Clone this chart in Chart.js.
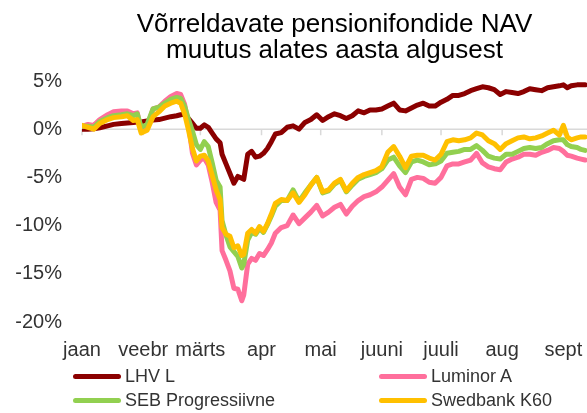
<!DOCTYPE html>
<html>
<head>
<meta charset="utf-8">
<script src="https://cdn.jsdelivr.net/npm/chart.js@4.4.1/dist/chart.umd.min.js"></script>
<style>
  body { margin: 0; background: #fff; }
  #wrap { position: relative; width: 587px; height: 413px; }
  .legend-item { position: absolute; display: flex; align-items: center; font: 18px 'Liberation Sans', Arial, sans-serif; color: #333; }
  .legend-item .sw { display: inline-block; width: 48px; height: 5px; border-radius: 3px; margin-right: 4px; }
</style>
</head>
<body>
<div id="wrap">
  <canvas id="chart"></canvas>
  <div id="legend"></div>
</div>
<script>
// day of year (0 = 1 Jan)
const days = [
  0, 3, 6, 9, 13, 16, 20, 23, 26, 28,
  30, 33, 36, 39, 42, 45, 48, 50, 52, 54,
  56, 58, 60, 62, 64, 66, 68, 70, 71, 73,
  75, 77, 79, 81, 82, 84, 86, 88, 90, 92,
  94, 96, 98, 101, 104, 107, 110, 113, 116, 119,
  122, 125, 128, 131, 134, 137, 140, 143, 146, 149,
  152, 155, 158, 161, 164, 167, 170, 173, 176, 179,
  182, 185, 188, 191, 194, 197, 200, 203, 206, 209,
  212, 215, 218, 221, 224, 227, 230, 233, 236, 239,
  242, 244, 246, 248, 251, 253, 255
];

const lhvL = [
  0, 0, 0.05, 0.15, 0.35, 0.5, 0.6, 0.65, 0.7, 0.75,
  0.75, 0.85, 0.95, 1.0, 1.15, 1.3, 1.4, 1.5, 1.55, 1.1,
  0.6, 0.1, 0.1, 0.45, 0.2, -0.4, -1.0, -1.4, -2.6, -3.6,
  -4.6, -5.6, -4.9, -5.1, -5.2, -2.6, -2.3, -2.9, -2.8, -2.5,
  -2.0, -1.3, -0.5, -0.35, 0.2, 0.35, 0.0, 0.7, 1.0, 1.5,
  0.9, 1.3, 1.6, 1.4, 1.1, 1.4, 1.9, 1.7, 2.0, 2.0,
  2.1, 2.4, 2.7, 2.0, 1.9, 2.2, 2.5, 2.7, 2.4, 2.4,
  2.8, 3.1, 3.5, 3.5, 3.7, 4.0, 4.2, 4.4, 4.3, 4.1,
  3.6, 3.9, 3.8, 3.7, 3.9, 4.2, 4.1, 4.0, 4.3, 4.4,
  4.5, 4.6, 4.3, 4.5, 4.6, 4.6, 4.6
];

const luminorA = [
  0.3, 0.5, 0.4, 1.0, 1.5, 1.8, 1.9, 1.9, 1.6, 1.7,
  -0.1, 0.2, 2.1, 2.3, 2.9, 3.4, 3.7, 3.6, 2.6, 0.5,
  -2.5, -3.7, -3.2, -3.0, -3.7, -5.5, -7.6, -8.4, -12.6, -13.6,
  -14.7, -16.5, -16.6, -17.8, -17.2, -14.0, -13.4, -13.6, -12.9, -13.1,
  -12.5, -11.8, -10.8, -10.2, -10.0, -8.9, -9.8, -9.2, -8.6, -7.9,
  -9.0, -8.6, -8.1, -7.8, -8.8, -8.0, -7.4, -7.0, -6.8, -6.5,
  -6.0, -5.3, -4.6, -6.0, -6.8, -5.2, -5.0, -5.1, -5.5, -5.6,
  -5.0, -3.8, -3.6, -3.6, -3.4, -3.2, -2.5, -3.5, -3.9, -4.1,
  -4.2, -3.4, -3.1, -2.9, -2.6, -2.6, -2.7, -2.4, -2.2, -1.9,
  -2.0, -2.3, -2.7, -2.8, -3.0, -3.1, -3.2
];

const sebProgressiivne = [
  0.3, 0.3, 0.2, 0.8, 1.2, 1.4, 1.5, 1.6, 1.4, 1.6,
  0.2, 0.5, 2.1, 2.3, 2.7, 3.1, 3.3, 3.2, 2.4, 1.0,
  -0.2, -1.6, -2.1, -1.3, -1.8, -3.5, -5.3, -6.0, -9.5, -11.0,
  -12.2, -12.7, -13.2, -14.4, -14.0, -11.5, -10.7, -10.9, -10.3, -10.7,
  -9.9, -9.0, -8.0, -7.4, -7.4, -6.3, -7.5, -6.6, -5.8, -5.0,
  -6.6, -6.4, -5.7, -5.3, -6.5, -5.8, -5.2, -4.9, -4.7, -4.5,
  -4.1, -3.2, -2.9, -3.8, -4.5, -3.4, -3.2, -3.4, -3.7, -3.6,
  -3.3, -2.5, -2.4, -2.3, -2.1, -2.1, -1.7, -2.2, -2.8, -3.0,
  -3.1, -2.6, -2.6, -2.3, -2.0, -1.9, -2.0, -1.9, -1.5, -1.2,
  -1.1, -1.1, -1.6, -1.8, -1.9, -2.1, -2.2
];

const swedbankK60 = [
  0.4, 0.2, 0.0, 0.6, 1.0, 1.2, 1.3, 1.4, 0.9, 1.0,
  -0.4, -0.1, 1.3, 1.8, 2.4, 2.7, 2.9, 2.7, 1.6, -0.1,
  -2.0, -3.3, -2.8, -2.7, -3.3, -4.8, -6.3, -7.3, -10.2, -10.9,
  -11.1, -12.3, -12.1, -13.1, -13.0, -10.8, -10.4, -10.8, -10.1, -10.6,
  -9.8, -8.8, -7.7, -7.3, -7.4, -6.6, -7.6, -6.8, -5.8, -5.0,
  -6.5, -6.3, -5.6, -5.2, -6.4, -5.6, -5.0, -4.7, -4.5, -4.3,
  -3.9, -2.4, -1.8, -2.8, -4.0, -2.8, -2.7, -2.7, -3.0, -3.2,
  -2.6, -1.3, -1.1, -1.2, -1.1, -0.9, -0.4, -0.6, -1.2, -1.5,
  -2.1, -1.5, -1.2, -0.9, -0.8, -1.0, -0.9, -0.7, -0.4, -0.1,
  -0.6, 0.4, -0.8, -1.1, -0.9, -0.8, -0.8
];

const seriesNames = ['LHV L', 'Luminor A', 'SEB Progressiivne', 'Swedbank K60'];
const seriesColors = ['#8B0000', '#FF6F9C', '#92D050', '#FFC000'];

const monthStarts = [0, 31, 60, 91, 121, 152, 182, 213, 244];
const monthLabels = ['jaan', 'veebr', 'märts', 'apr', 'mai', 'juuni', 'juuli', 'aug', 'sept'];
const yTicks = [5, 0, -5, -10, -15, -20];

const FONT = "'Liberation Sans', Arial, sans-serif";
Chart.defaults.font.family = FONT;
Chart.defaults.color = '#333';

function toPoints(values) {
  return values.map((v, i) => ({ x: days[i], y: v }));
}

const allValues = [lhvL, luminorA, sebProgressiivne, swedbankK60];
const datasets = allValues.map((vals, i) => ({
  label: seriesNames[i],
  data: toPoints(vals),
  borderColor: seriesColors[i],
  backgroundColor: seriesColors[i],
  borderWidth: 5,
  pointRadius: 0,
  tension: 0,
  borderJoinStyle: 'round',
  borderCapStyle: 'round',
  order: 3 - i
}));

// zero line with month tick marks, drawn under the series
const zeroAxis = {
  id: 'zeroAxis',
  beforeDatasetsDraw(chart) {
    const { ctx, chartArea, scales } = chart;
    const y0 = scales.y.getPixelForValue(0);
    ctx.save();
    ctx.strokeStyle = '#d9d9d9';
    ctx.lineWidth = 1.5;
    ctx.beginPath();
    ctx.moveTo(chartArea.left, y0);
    ctx.lineTo(chartArea.right, y0);
    monthStarts.forEach(m => {
      const x = scales.x.getPixelForValue(m);
      ctx.moveTo(x, y0);
      ctx.lineTo(x, y0 + 6);
    });
    ctx.stroke();
    ctx.restore();
  }
};

new Chart(document.getElementById('chart'), {
  type: 'line',
  data: { datasets },
  plugins: [zeroAxis],
  options: {
    responsive: true,
    maintainAspectRatio: false,
    animation: false,
    layout: { padding: { top: 0, right: 0, bottom: 51, left: 0 } },
    plugins: {
      legend: { display: false },
      tooltip: { enabled: false },
      title: {
        display: true,
        fullSize: false,
        text: ['Võrreldavate pensionifondide NAV', 'muutus alates aasta algusest'],
        color: '#000',
        font: { size: 26, weight: 'normal', lineHeight: 1.0 },
        padding: { top: 12, bottom: 17 }
      }
    },
    scales: {
      x: {
        type: 'linear',
        min: 0,
        max: 256,
        afterBuildTicks: scale => { scale.ticks = monthStarts.map(v => ({ value: v })); },
        afterFit: scale => {
          scale.height = 40;
          scale.paddingLeft = 0;
          scale.paddingRight = 0;
        },
        grid: { display: false, drawTicks: false },
        border: { display: false },
        ticks: {
          autoSkip: false,
          maxRotation: 0,
          padding: 16,
          font: { size: 20 },
          color: '#333',
          callback: (v) => monthLabels[monthStarts.indexOf(v)]
        }
      },
      y: {
        min: -20,
        max: 5,
        afterBuildTicks: scale => { scale.ticks = yTicks.map(v => ({ value: v })); },
        afterFit: scale => {
          scale.width = 82;
          scale.paddingTop = 0;
          scale.paddingBottom = 0;
        },
        grid: { display: false, drawTicks: false },
        border: { display: false },
        ticks: {
          padding: 20,
          font: { size: 20 },
          color: '#333',
          callback: v => v + '%'
        }
      }
    }
  }
});

// legend in two columns
const legendPos = [
  { left: 73, top: 366 }, { left: 379, top: 366 },
  { left: 73, top: 390 }, { left: 379, top: 390 }
];
const legend = document.getElementById('legend');
seriesNames.forEach((name, i) => {
  const item = document.createElement('div');
  item.className = 'legend-item';
  item.style.left = legendPos[i].left + 'px';
  item.style.top = legendPos[i].top + 'px';
  item.innerHTML = '<span class="sw" style="background:' + seriesColors[i] + '"></span>' + name;
  legend.appendChild(item);
});
</script>
</body>
</html>
